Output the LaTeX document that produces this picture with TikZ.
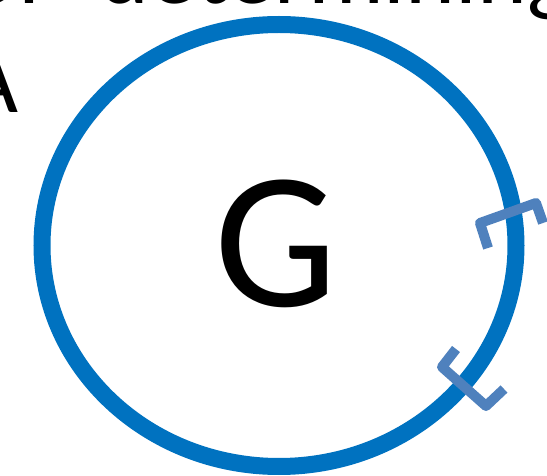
\documentclass[tikz,border=0pt]{standalone}
\usepackage{fontspec}
\setmainfont{Carlito}
\definecolor{ringblue}{RGB}{0,114,192}
\definecolor{markblue}{RGB}{79,129,189}
\tikzset{
  bodytext/.style={inner sep=0pt, outer sep=0pt, font=\fontsize{95}{109}\selectfont, anchor=base west},
  ring/.style={draw=ringblue, line width=17pt, fill=white},
  bigletter/.style={inner sep=0pt, font=\fontsize{195}{220}\selectfont, anchor=base},
  markbracket/.style={draw=markblue, line width=10pt, line join=round, line cap=butt}
}
\begin{document}
\begin{tikzpicture}[x=1pt,y=-1pt]
\useasboundingbox (0,0) rectangle (547,476);
\clip (0,0) rectangle (547,476);
\node[bodytext] (line1) at (-33,3.5) {of\hskip 54pt determining};
\node[bodytext] (line2) at (-36,113) {A};
\draw[ring] (279,245.5) ellipse [x radius=237, y radius=221];
\node[bigletter] (g) at (276,306) {G};
\draw[markbracket] (488,248) -- (480,223) -- (536,203) -- (543,223);
\draw[markbracket] (456,349) -- (442,367) -- (486,406) -- (504,389);
\end{tikzpicture}
\end{document}
